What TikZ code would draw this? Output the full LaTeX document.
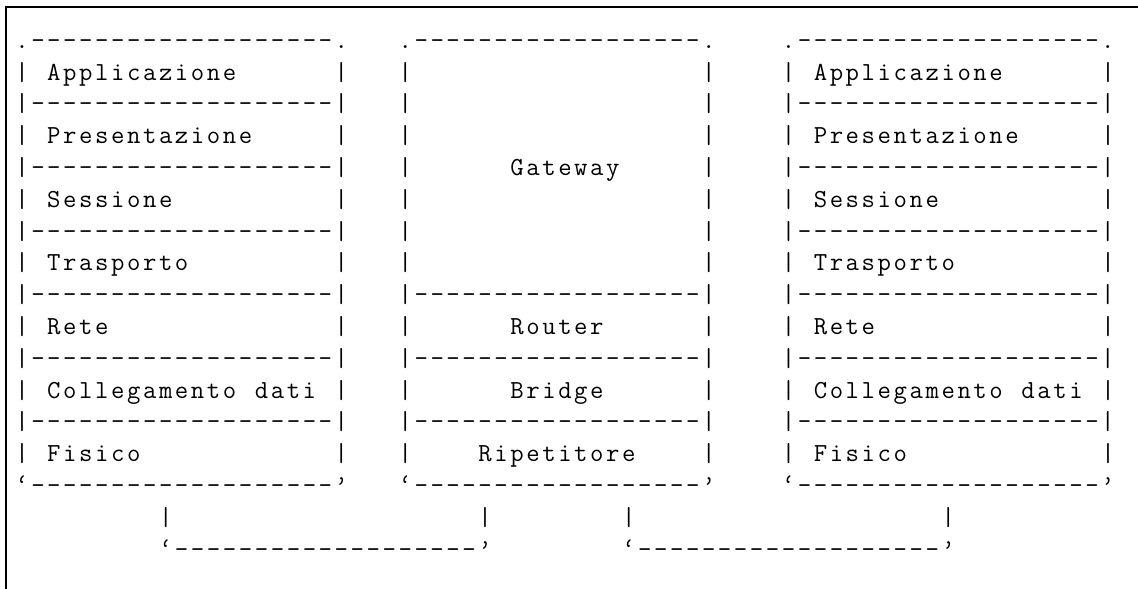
\documentclass[tikz,border=0pt]{standalone}
\usepackage{fontspec}
\tikzset{
  asc/.style={anchor=base west, inner sep=0pt, outer sep=0pt,
    font=\fontsize{26}{31}\selectfont\ttfamily, text=black},
  frameline/.style={line width=1.4pt, black}
}
\ExplSyntaxOn
\NewDocumentCommand\gridtext{m}{
  \tl_map_inline:nn {#1} {\makebox[15.97pt][c]{##1}}
}
\ExplSyntaxOff
\newcommand\asc[4]{\node[asc] (#1) at ({#2+0.877},{#3+1.516}) {\gridtext{#4}};}
\begin{document}
\begin{tikzpicture}[x=15.97pt, y=-31.8pt]
\useasboundingbox (0,0) rectangle (71.259,18.522);
% frame
\coordinate (fTR) at (71.259,0.22);
\coordinate (fTL) at (0.376,0.22);
\coordinate (fBL) at (0.376,18.522);
\draw[frameline] (fTR) -- (fTL) -- (fBL);

% ---------- left and right stacks ----------
\foreach \s/\c in {L/0, R/48}{
  \asc{\s top}{\c}{0}{.-------------------.}
  \foreach \r in {2,4,...,12}{
    \asc{\s sep\r}{\c}{\r}{|-------------------|}
  }
  \foreach \r in {1,3,...,13}{
    \asc{\s pl\r}{\c}{\r}{|}
    \asc{\s pr\r}{\c+20}{\r}{|}
  }
  \asc{\s bot}{\c}{14}{‘-------------------’}
  \asc{\s app}{\c+2}{1}{Applicazione}
  \asc{\s pre}{\c+2}{3}{Presentazione}
  \asc{\s ses}{\c+2}{5}{Sessione}
  \asc{\s tra}{\c+2}{7}{Trasporto}
  \asc{\s ret}{\c+2}{9}{Rete}
  \asc{\s col}{\c+2}{11}{Collegamento~dati}
  \asc{\s fis}{\c+2}{13}{Fisico}
}

% ---------- middle stack ----------
\asc{Mtop}{24}{0}{.------------------.}
\foreach \r in {1,2,3,4,5,6,7,9,11,13}{
  \asc{Mpl\r}{24}{\r}{|}
  \asc{Mpr\r}{43}{\r}{|}
}
\foreach \r in {8,10,12}{
  \asc{Msep\r}{24}{\r}{|------------------|}
}
\asc{Mbot}{24}{14}{‘------------------’}
\asc{Mgat}{31}{4}{Gateway}
\asc{Mrou}{31}{9}{Router}
\asc{Mbri}{31}{11}{Bridge}
\asc{Mrip}{29}{13}{Ripetitore}

% ---------- connections ----------
\foreach \c in {9,29,38,58}{
  \asc{conn\c}{\c}{15}{|}
}
\asc{linkA}{9}{16}{‘-------------------’}
\asc{linkB}{38}{16}{‘-------------------’}
\end{tikzpicture}
\end{document}
